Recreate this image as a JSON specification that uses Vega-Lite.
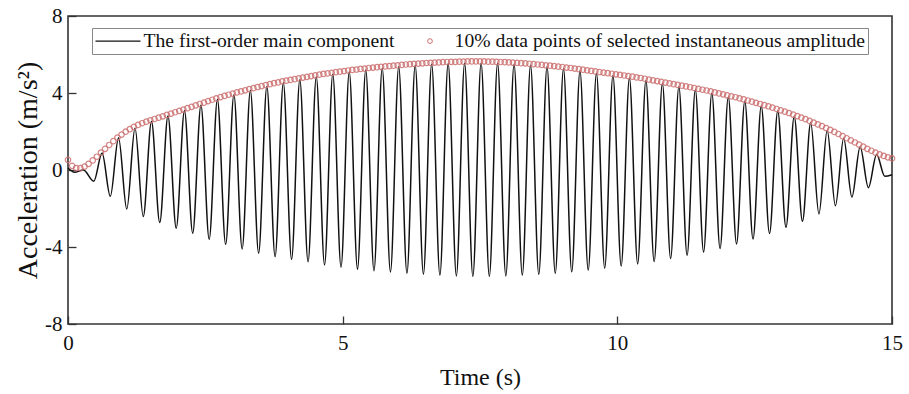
{
  "$schema": "https://vega.github.io/schema/vega-lite/v6.json",
  "width": 824,
  "height": 308,
  "autosize": {"type": "none"},
  "padding": {"left": 68, "top": 16, "right": 17, "bottom": 70},
  "background": "white",
  "config": {
    "view": {"stroke": "#333333", "strokeWidth": 1.6},
    "font": "Liberation Serif"
  },
  "datasets": {
    "signal": [
      {"t":0,"a":0.1},{"t":0.12,"a":-0.12},{"t":0.28,"a":0.0},{"t":0.47,"a":-0.58},{"t":0.62,"a":0.88},{"t":0.77,"a":-1.37},{"t":0.92,"a":1.68},{"t":1.07,"a":-2.03},{"t":1.22,"a":2.18},{"t":1.37,"a":-2.42},{"t":1.52,"a":2.52},{"t":1.67,"a":-2.73},{"t":1.82,"a":2.8},{"t":1.97,"a":-3.02},{"t":2.12,"a":3.08},{"t":2.27,"a":-3.28},{"t":2.42,"a":3.37},{"t":2.57,"a":-3.6},{"t":2.72,"a":3.66},{"t":2.87,"a":-3.86},{"t":3.02,"a":3.91},{"t":3.17,"a":-4.1},{"t":3.32,"a":4.13},{"t":3.47,"a":-4.32},{"t":3.62,"a":4.34},{"t":3.77,"a":-4.5},{"t":3.92,"a":4.53},{"t":4.07,"a":-4.64},{"t":4.22,"a":4.69},{"t":4.37,"a":-4.77},{"t":4.52,"a":4.85},{"t":4.67,"a":-4.93},{"t":4.82,"a":4.98},{"t":4.97,"a":-5.05},{"t":5.12,"a":5.1},{"t":5.27,"a":-5.15},{"t":5.42,"a":5.2},{"t":5.57,"a":-5.23},{"t":5.72,"a":5.29},{"t":5.87,"a":-5.3},{"t":6.02,"a":5.37},{"t":6.17,"a":-5.36},{"t":6.32,"a":5.44},{"t":6.47,"a":-5.41},{"t":6.62,"a":5.49},{"t":6.77,"a":-5.46},{"t":6.92,"a":5.53},{"t":7.07,"a":-5.5},{"t":7.22,"a":5.55},{"t":7.37,"a":-5.52},{"t":7.52,"a":5.56},{"t":7.67,"a":-5.52},{"t":7.82,"a":5.54},{"t":7.97,"a":-5.5},{"t":8.12,"a":5.5},{"t":8.27,"a":-5.46},{"t":8.42,"a":5.44},{"t":8.57,"a":-5.42},{"t":8.72,"a":5.36},{"t":8.87,"a":-5.37},{"t":9.02,"a":5.26},{"t":9.17,"a":-5.29},{"t":9.32,"a":5.15},{"t":9.47,"a":-5.2},{"t":9.62,"a":5.03},{"t":9.77,"a":-5.1},{"t":9.92,"a":4.91},{"t":10.07,"a":-4.99},{"t":10.22,"a":4.79},{"t":10.37,"a":-4.88},{"t":10.52,"a":4.65},{"t":10.67,"a":-4.76},{"t":10.82,"a":4.49},{"t":10.97,"a":-4.6},{"t":11.12,"a":4.33},{"t":11.27,"a":-4.43},{"t":11.42,"a":4.17},{"t":11.57,"a":-4.26},{"t":11.72,"a":3.99},{"t":11.87,"a":-4.08},{"t":12.02,"a":3.79},{"t":12.17,"a":-3.84},{"t":12.32,"a":3.57},{"t":12.47,"a":-3.58},{"t":12.62,"a":3.33},{"t":12.77,"a":-3.3},{"t":12.92,"a":3.07},{"t":13.07,"a":-2.98},{"t":13.22,"a":2.78},{"t":13.37,"a":-2.66},{"t":13.52,"a":2.45},{"t":13.67,"a":-2.28},{"t":13.82,"a":2.07},{"t":13.97,"a":-1.86},{"t":14.12,"a":1.65},{"t":14.27,"a":-1.4},{"t":14.42,"a":1.21},{"t":14.57,"a":-0.92},{"t":14.72,"a":0.8},{"t":14.87,"a":-0.33},{"t":15.0,"a":-0.25}
    ],
    "amp": [
      {"t":0,"v":0.53},{"t":0.075,"v":0.22},{"t":0.15,"v":0.1},{"t":0.225,"v":0.1},{"t":0.3,"v":0.18},{"t":0.375,"v":0.32},{"t":0.45,"v":0.5},{"t":0.525,"v":0.69},{"t":0.6,"v":0.9},{"t":0.675,"v":1.1},{"t":0.75,"v":1.3},{"t":0.825,"v":1.5},{"t":0.9,"v":1.68},{"t":0.975,"v":1.84},{"t":1.05,"v":1.99},{"t":1.125,"v":2.12},{"t":1.2,"v":2.24},{"t":1.275,"v":2.34},{"t":1.35,"v":2.43},{"t":1.425,"v":2.51},{"t":1.5,"v":2.58},{"t":1.575,"v":2.65},{"t":1.65,"v":2.72},{"t":1.725,"v":2.79},{"t":1.8,"v":2.86},{"t":1.875,"v":2.93},{"t":1.95,"v":3.0},{"t":2.025,"v":3.07},{"t":2.1,"v":3.14},{"t":2.175,"v":3.21},{"t":2.25,"v":3.28},{"t":2.325,"v":3.36},{"t":2.4,"v":3.43},{"t":2.475,"v":3.5},{"t":2.55,"v":3.58},{"t":2.625,"v":3.65},{"t":2.7,"v":3.72},{"t":2.775,"v":3.79},{"t":2.85,"v":3.85},{"t":2.925,"v":3.91},{"t":3.0,"v":3.97},{"t":3.075,"v":4.03},{"t":3.15,"v":4.08},{"t":3.225,"v":4.14},{"t":3.3,"v":4.2},{"t":3.375,"v":4.25},{"t":3.45,"v":4.31},{"t":3.525,"v":4.36},{"t":3.6,"v":4.41},{"t":3.675,"v":4.46},{"t":3.75,"v":4.51},{"t":3.825,"v":4.55},{"t":3.9,"v":4.6},{"t":3.975,"v":4.64},{"t":4.05,"v":4.68},{"t":4.125,"v":4.72},{"t":4.2,"v":4.76},{"t":4.275,"v":4.8},{"t":4.35,"v":4.84},{"t":4.425,"v":4.88},{"t":4.5,"v":4.92},{"t":4.575,"v":4.95},{"t":4.65,"v":4.99},{"t":4.725,"v":5.02},{"t":4.8,"v":5.05},{"t":4.875,"v":5.08},{"t":4.95,"v":5.11},{"t":5.025,"v":5.14},{"t":5.1,"v":5.17},{"t":5.175,"v":5.2},{"t":5.25,"v":5.22},{"t":5.325,"v":5.25},{"t":5.4,"v":5.27},{"t":5.475,"v":5.3},{"t":5.55,"v":5.32},{"t":5.625,"v":5.34},{"t":5.7,"v":5.36},{"t":5.775,"v":5.38},{"t":5.85,"v":5.4},{"t":5.925,"v":5.42},{"t":6.0,"v":5.44},{"t":6.075,"v":5.46},{"t":6.15,"v":5.48},{"t":6.225,"v":5.5},{"t":6.3,"v":5.51},{"t":6.375,"v":5.53},{"t":6.45,"v":5.54},{"t":6.525,"v":5.56},{"t":6.6,"v":5.57},{"t":6.675,"v":5.58},{"t":6.75,"v":5.59},{"t":6.825,"v":5.6},{"t":6.9,"v":5.61},{"t":6.975,"v":5.62},{"t":7.05,"v":5.62},{"t":7.125,"v":5.63},{"t":7.2,"v":5.63},{"t":7.275,"v":5.64},{"t":7.35,"v":5.64},{"t":7.425,"v":5.64},{"t":7.5,"v":5.64},{"t":7.575,"v":5.64},{"t":7.65,"v":5.63},{"t":7.725,"v":5.63},{"t":7.8,"v":5.62},{"t":7.875,"v":5.61},{"t":7.95,"v":5.6},{"t":8.025,"v":5.59},{"t":8.1,"v":5.58},{"t":8.175,"v":5.57},{"t":8.25,"v":5.55},{"t":8.325,"v":5.54},{"t":8.4,"v":5.52},{"t":8.475,"v":5.5},{"t":8.55,"v":5.48},{"t":8.625,"v":5.46},{"t":8.7,"v":5.44},{"t":8.775,"v":5.42},{"t":8.85,"v":5.4},{"t":8.925,"v":5.37},{"t":9.0,"v":5.35},{"t":9.075,"v":5.32},{"t":9.15,"v":5.3},{"t":9.225,"v":5.27},{"t":9.3,"v":5.24},{"t":9.375,"v":5.21},{"t":9.45,"v":5.18},{"t":9.525,"v":5.15},{"t":9.6,"v":5.12},{"t":9.675,"v":5.09},{"t":9.75,"v":5.06},{"t":9.825,"v":5.03},{"t":9.9,"v":5.0},{"t":9.975,"v":4.97},{"t":10.05,"v":4.94},{"t":10.125,"v":4.91},{"t":10.2,"v":4.88},{"t":10.275,"v":4.85},{"t":10.35,"v":4.81},{"t":10.425,"v":4.78},{"t":10.5,"v":4.74},{"t":10.575,"v":4.7},{"t":10.65,"v":4.66},{"t":10.725,"v":4.62},{"t":10.8,"v":4.58},{"t":10.875,"v":4.54},{"t":10.95,"v":4.5},{"t":11.025,"v":4.46},{"t":11.1,"v":4.42},{"t":11.175,"v":4.38},{"t":11.25,"v":4.34},{"t":11.325,"v":4.3},{"t":11.4,"v":4.26},{"t":11.475,"v":4.22},{"t":11.55,"v":4.17},{"t":11.625,"v":4.13},{"t":11.7,"v":4.08},{"t":11.775,"v":4.03},{"t":11.85,"v":3.98},{"t":11.925,"v":3.93},{"t":12.0,"v":3.88},{"t":12.075,"v":3.83},{"t":12.15,"v":3.78},{"t":12.225,"v":3.72},{"t":12.3,"v":3.67},{"t":12.375,"v":3.61},{"t":12.45,"v":3.55},{"t":12.525,"v":3.49},{"t":12.6,"v":3.43},{"t":12.675,"v":3.37},{"t":12.75,"v":3.31},{"t":12.825,"v":3.24},{"t":12.9,"v":3.17},{"t":12.975,"v":3.1},{"t":13.05,"v":3.03},{"t":13.125,"v":2.96},{"t":13.2,"v":2.88},{"t":13.275,"v":2.8},{"t":13.35,"v":2.72},{"t":13.425,"v":2.64},{"t":13.5,"v":2.55},{"t":13.575,"v":2.46},{"t":13.65,"v":2.37},{"t":13.725,"v":2.28},{"t":13.8,"v":2.18},{"t":13.875,"v":2.08},{"t":13.95,"v":1.98},{"t":14.025,"v":1.87},{"t":14.1,"v":1.76},{"t":14.175,"v":1.65},{"t":14.25,"v":1.54},{"t":14.325,"v":1.43},{"t":14.4,"v":1.32},{"t":14.475,"v":1.21},{"t":14.55,"v":1.1},{"t":14.625,"v":1.0},{"t":14.7,"v":0.9},{"t":14.775,"v":0.81},{"t":14.85,"v":0.73},{"t":14.925,"v":0.66},{"t":15.0,"v":0.6}
    ]
  },
  "layer": [
    {
      "data": {"name": "signal"},
      "mark": {"type": "line", "interpolate": "monotone", "strokeWidth": 1.5},
      "encoding": {
        "x": {
          "field": "t", "type": "quantitative",
          "scale": {"domain": [0, 15], "nice": false, "zero": false},
          "axis": {
            "values": [0, 5, 10, 15], "title": "Time (s)", "grid": false, "domain": false,
            "labelExpr": "'' + datum.value",
            "tickSize": -8, "tickColor": "#333333", "tickWidth": 1.3,
            "labelFont": "Liberation Serif", "labelFontSize": 21, "labelColor": "#111111",
            "labelPadding": 16, "labelFlush": false,
            "titleFont": "Liberation Serif", "titleFontSize": 24, "titleFontWeight": "normal",
            "titleColor": "#111111", "titlePadding": 12
          }
        },
        "y": {
          "field": "a", "type": "quantitative",
          "scale": {"domain": [-8, 8], "nice": false, "zero": false},
          "axis": {
            "values": [-8, -4, 0, 4, 8], "title": "Acceleration (m/s²)", "grid": false, "domain": false,
            "labelExpr": "'' + datum.value",
            "tickSize": -8, "tickColor": "#333333", "tickWidth": 1.3,
            "labelFont": "Liberation Serif", "labelFontSize": 21, "labelColor": "#111111",
            "labelPadding": 14, "labelFlush": false,
            "titleFont": "Liberation Serif", "titleFontSize": 28, "titleFontWeight": "normal",
            "titleColor": "#111111", "titlePadding": 2
          }
        },
        "color": {
          "datum": "The first-order main component",
          "type": "nominal",
          "scale": {
            "domain": ["The first-order main component", "10% data points of selected instantaneous amplitude"],
            "range": ["#111111", "#cc6f6f"]
          },
          "legend": {
            "orient": "none", "legendX": 24, "legendY": 12, "direction": "horizontal",
            "title": null, "symbolType": "stroke", "symbolSize": 2025, "symbolStrokeWidth": 1.3,
            "labelFont": "Liberation Serif", "labelFontSize": 19.6, "labelColor": "#111111",
            "labelOffset": 29, "labelLimit": 700, "columnPadding": 11, "padding": 3,
            "strokeColor": "#888888", "fillColor": "white",
            "encode": {
              "symbols": {
                "update": {
                  "shape": {"signal": "datum.value === 'The first-order main component' ? 'stroke' : 'circle'"},
                  "size": {"signal": "datum.value === 'The first-order main component' ? 2025 : 22"},
                  "strokeWidth": {"signal": "datum.value === 'The first-order main component' ? 1.3 : 1"},
                  "x": {"signal": "datum.value === 'The first-order main component' ? 23 : 24"},
                  "fill": {"value": "transparent"}
                }
              }
            }
          }
        }
      }
    },
    {
      "data": {"name": "amp"},
      "mark": {"type": "point", "filled": false, "size": 30, "strokeWidth": 1.2, "opacity": 0.85},
      "encoding": {
        "x": {"field": "t", "type": "quantitative"},
        "y": {"field": "v", "type": "quantitative"},
        "color": {"datum": "10% data points of selected instantaneous amplitude", "type": "nominal"}
      }
    }
  ]
}
